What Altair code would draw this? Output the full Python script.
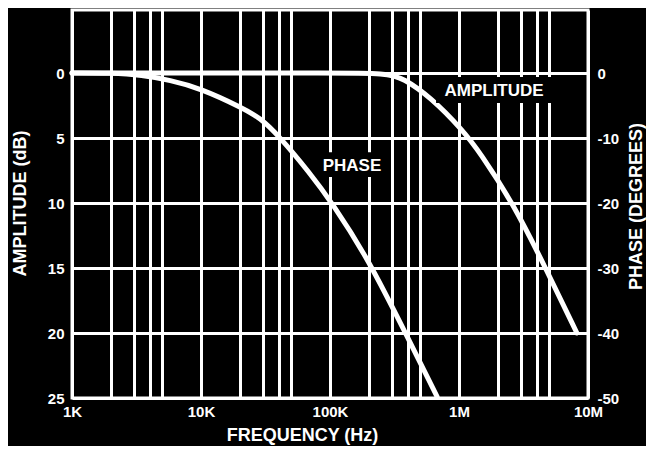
import altair as alt
import pandas as pd

# ---- data ----
grid_freqs = [1e3, 2e3, 3e3, 4e3, 5e3,
              1e4, 2e4, 3e4, 4e4, 5e4,
              1e5, 2e5, 3e5, 4e5, 5e5,
              1e6, 2e6, 3e6, 4e6, 5e6, 1e7]
decade_labels = {1e3: "1K", 1e4: "10K", 1e5: "100K", 1e6: "1M", 1e7: "10M"}

amp_freq = [1e3, 1e4, 1e5, 2.76e5, 3.7e5, 6.0e5, 1.07e6, 1.45e6, 2.62e6, 4.8e6, 8.2e6]
amp_db = [0, 0, 0, 0, 0.4, 1.85, 4.4, 6.1, 10.0, 15.2, 20.0]

phase_freq = [1e3, 2e3, 3.5e3, 5.75e3, 9.8e3, 21.2e3, 28.6e3, 39.5e3, 70e3, 1.04e5, 1.94e5, 4.03e5, 6.76e5]
phase_deg = [0, 0, -0.3, -1.1, -2.3, -5.4, -6.9, -9.5, -15.4, -20.0, -28.3, -40.8, -49.8]

amp_ticks = [0, 5, 10, 15, 20, 25]
phase_ticks = [0, -10, -20, -30, -40, -50]

# annotation labels (in data units: frequency, dB) and their knock-out boxes
label_text = ["AMPLITUDE", "PHASE"]
label_freq = [1.87e6, 1.48e5]
label_db = [1.38, 7.15]
box_f1 = [6.64e5, 7.78e4]
box_f2 = [5.26e6, 2.82e5]
box_d1 = [0.3, 6.1]
box_d2 = [2.3, 8.0]

FONT = "Liberation Sans"

amp_df = pd.DataFrame({"f": amp_freq, "v": amp_db})
phase_df = pd.DataFrame({"f": phase_freq, "v": phase_deg})
lab_df = pd.DataFrame({"t": label_text, "f": label_freq, "v": label_db,
                       "f1": box_f1, "f2": box_f2, "d1": box_d1, "d2": box_d2})

label_expr = " : ".join(
    [f"datum.value == {int(k)} ? '{v}'" for k, v in decade_labels.items()]) + " : ''"

xscale = alt.Scale(type="log", domain=[1e3, 1e7], nice=False)
xaxis = alt.Axis(values=grid_freqs, labelExpr=label_expr, grid=True,
                 gridColor="white", gridWidth=3, gridOpacity=1,
                 domain=False, ticks=False, tickSize=0,
                 labelFlush=False, labelOverlap=False, labelBound=False,
                 labelFont=FONT, labelFontWeight="bold", labelFontSize=15,
                 labelColor="white", labelPadding=6,
                 title="FREQUENCY (Hz)", titleFont=FONT, titleFontWeight="bold",
                 titleFontSize=18, titleColor="white",
                 titleX=230, titleY=37, titleAlign="center", titleBaseline="middle")

def X(field="f"):
    return alt.X(f"{field}:Q", scale=xscale, axis=xaxis)

ampscale = alt.Scale(domain=[-4.85, 25], reverse=True, nice=False, zero=False)
ampaxis = alt.Axis(values=amp_ticks, grid=True, gridColor="white", gridWidth=3,
                   gridOpacity=1, domain=False, ticks=False, tickSize=0,
                   labelOverlap=False, labelBound=False,
                   labelFont=FONT, labelFontWeight="bold", labelFontSize=15,
                   labelColor="white", labelPadding=8,
                   title="AMPLITUDE (dB)", titleFont=FONT, titleFontWeight="bold",
                   titleFontSize=18, titleColor="white", titleAngle=270,
                   titleX=-52, titleY=193, titleAlign="center", titleBaseline="middle")

def Yamp(field="v"):
    return alt.Y(f"{field}:Q", scale=ampscale, axis=ampaxis)

amp_line = alt.Chart(amp_df).mark_line(
    color="white", strokeWidth=5, interpolate="basis", strokeCap="round"
).encode(x=X(), y=Yamp())

boxes = alt.Chart(lab_df).mark_rect(color="black").encode(
    x=X("f1"), x2="f2:Q", y=Yamp("d1"), y2="d2:Q")

texts = alt.Chart(lab_df).mark_text(
    color="white", font=FONT, fontWeight="bold", fontSize=17,
    align="center", baseline="middle"
).encode(x=X(), y=Yamp(), text="t:N")

phase_line = alt.Chart(phase_df).mark_line(
    color="white", strokeWidth=5, interpolate="basis", strokeCap="round"
).encode(
    x=X(),
    y=alt.Y("v:Q",
            scale=alt.Scale(domain=[-50, 9.7], nice=False, zero=False),
            axis=alt.Axis(orient="right", values=phase_ticks, grid=False,
                          domain=False, ticks=False, tickSize=0,
                          labelExpr="datum.value + ''",
                          labelOverlap=False, labelBound=False,
                          labelFont=FONT, labelFontWeight="bold", labelFontSize=15,
                          labelColor="white", labelPadding=9,
                          title="PHASE (DEGREES)", titleFont=FONT,
                          titleFontWeight="bold", titleFontSize=18,
                          titleColor="white", titleAngle=270,
                          titleX=48, titleY=196, titleAlign="center",
                          titleBaseline="middle")))

chart = alt.layer(
    alt.layer(amp_line, boxes, texts),
    phase_line
).resolve_scale(y="independent").properties(
    width=516, height=388,
    background="black",
    padding={"left": 64, "top": 2, "right": 58, "bottom": 48},
    autosize=alt.AutoSizeParams(type="none"),
).configure_view(stroke="white", strokeWidth=3)

chart.save("out.html", embed_options={"renderer": "svg", "actions": False})
